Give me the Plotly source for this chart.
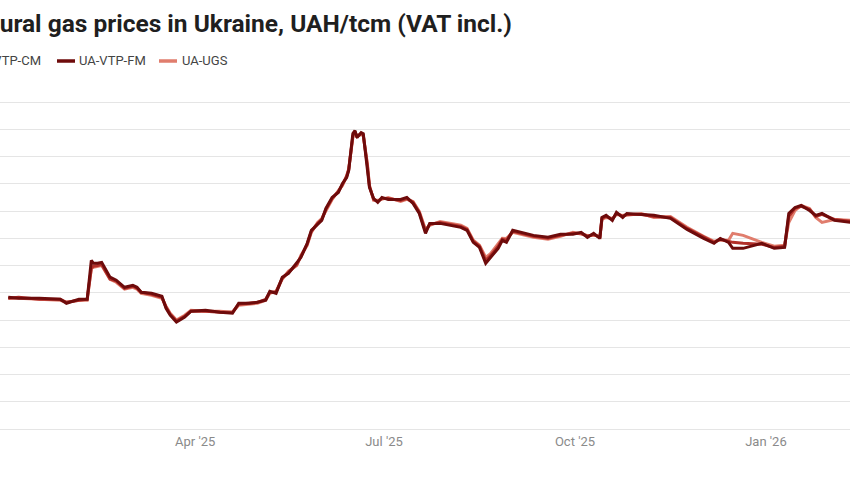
import plotly.graph_objects as go

dates = [
    "2025-01-01", "2025-01-06", "2025-01-16", "2025-01-26", "2025-01-29", "2025-02-04",
    "2025-02-08", "2025-02-10", "2025-02-11", "2025-02-13", "2025-02-15", "2025-02-19",
    "2025-02-22", "2025-02-26", "2025-03-02", "2025-03-04", "2025-03-06", "2025-03-11",
    "2025-03-16", "2025-03-18", "2025-03-20", "2025-03-23", "2025-03-27", "2025-03-30",
    "2025-04-06", "2025-04-13", "2025-04-19", "2025-04-22", "2025-04-27", "2025-05-01",
    "2025-05-05", "2025-05-07", "2025-05-10", "2025-05-13", "2025-05-16", "2025-05-20",
    "2025-05-22", "2025-05-25", "2025-05-27", "2025-05-30", "2025-06-01", "2025-06-03",
    "2025-06-06", "2025-06-09", "2025-06-11", "2025-06-13", "2025-06-14", "2025-06-16",
    "2025-06-17", "2025-06-18", "2025-06-20", "2025-06-21", "2025-06-23", "2025-06-24",
    "2025-06-26", "2025-06-28", "2025-06-30", "2025-07-03", "2025-07-09", "2025-07-12",
    "2025-07-15", "2025-07-18", "2025-07-21", "2025-07-23", "2025-07-28", "2025-08-02",
    "2025-08-07", "2025-08-10", "2025-08-13", "2025-08-16", "2025-08-19", "2025-08-21",
    "2025-08-25", "2025-08-27", "2025-08-29", "2025-09-01", "2025-09-05", "2025-09-11",
    "2025-09-18", "2025-09-24", "2025-09-30", "2025-10-04", "2025-10-07", "2025-10-10",
    "2025-10-13", "2025-10-14", "2025-10-16", "2025-10-19", "2025-10-21", "2025-10-24",
    "2025-10-26", "2025-11-02", "2025-11-08", "2025-11-16", "2025-11-24", "2025-12-02",
    "2025-12-07", "2025-12-10", "2025-12-14", "2025-12-16", "2025-12-21", "2025-12-30",
    "2026-01-05", "2026-01-10", "2026-01-12", "2026-01-15", "2026-01-18", "2026-01-22",
    "2026-01-25", "2026-01-28", "2026-02-03", "2026-02-11",
]

ua_vtp_fm = [
    19670, 19600, 19600, 19520, 19230, 19520,
    19520, 22380, 22160, 22160, 22230, 21140,
    20920, 20400, 20550, 20400, 20040, 19960,
    19740, 18860, 18350, 17840, 18210, 18640,
    18720, 18570, 18500, 19230, 19230, 19300,
    19450, 20110, 19960, 21140, 21430, 22160,
    22600, 23630, 24580, 25020, 25310, 26190,
    27000, 27360, 28020, 28460, 28970, 31680,
    31900, 31390, 31760, 31680, 29190, 27730,
    26920, 26630, 27000, 26850, 26850, 27000,
    26560, 25820, 24360, 25090, 25090, 24950,
    24800, 24580, 23700, 23330, 22160, 22530,
    23260, 23850, 23700, 24580, 24430, 24210,
    24070, 24290, 24290, 24430, 24070, 24360,
    23990, 25530, 25680, 25310, 25900, 25530,
    25820, 25750, 25680, 25460, 24650, 23990,
    23630, 23990, 23700, 23260, 23260, 23630,
    23260, 23330, 25820, 26260, 26410, 26040,
    25680, 25820, 25310, 25160,
]

ua_vtp_cm = [
    19600, 19670, 19520, 19520, 19300, 19450,
    19520, 21800, 21950, 22000, 22080, 21000,
    20850, 20330, 20480, 20330, 20040, 19890,
    19670, 18930, 18420, 17920, 18280, 18640,
    18640, 18570, 18570, 19160, 19230, 19300,
    19520, 20040, 20040, 21070, 21500, 22080,
    22670, 23560, 24510, 25090, 25380, 26120,
    26920, 27430, 27950, 28530, 29040, 31530,
    31830, 31460, 31680, 31600, 29330, 27800,
    26850, 26700, 26920, 26920, 26780, 26920,
    26630, 25900, 24500, 25020, 25160, 25020,
    24870, 24650, 23780, 23410, 22380, 22670,
    23410, 23930, 23850, 24510, 24360, 24140,
    24000, 24210, 24360, 24360, 24140, 24290,
    24070, 25460, 25600, 25380, 25820, 25600,
    25750, 25750, 25600, 25530, 24720, 24070,
    23700, 23930, 23780, 23700, 23630, 23560,
    23330, 23410, 25600, 26190, 26340, 26120,
    25600, 25750, 25380, 25230,
]

ua_ugs = [
    19600, 19600, 19520, 19450, 19300, 19450,
    19450, 21800, 21870, 21950, 22000, 20990,
    20770, 20260, 20400, 20260, 19960, 19820,
    19600, 19010, 18500, 18000, 18350, 18720,
    18640, 18640, 18570, 19090, 19160, 19230,
    19450, 19960, 20110, 21000, 21580, 22000,
    22750, 23480, 24430, 25160, 25450, 26040,
    26850, 27500, 27870, 28600, 29110, 31390,
    31750, 31530, 31600, 31530, 29480, 27870,
    26780, 26780, 26850, 26990, 26700, 26850,
    26700, 25970, 24650, 24950, 25230, 25090,
    24950, 24720, 23850, 23480, 22600, 22820,
    23560, 24000, 23990, 24430, 24290, 24070,
    23930, 24140, 24430, 24290, 24210, 24210,
    24140, 25380, 25530, 25450, 25750, 25680,
    25680, 25820, 25530, 25600, 24800, 24140,
    23780, 23850, 23850, 24360, 24210, 23700,
    23410, 23480, 25160, 26040, 26410, 26190,
    25530, 25160, 25380, 25310,
]

colors = {"UA-VTP-CM": "#b3302a", "UA-VTP-FM": "#6e0b0b", "UA-UGS": "#e07d6d"}

x_tick_vals = ["2025-04-01", "2025-07-01", "2025-10-01", "2026-01-01"]
x_tick_text = ["Apr '25", "Jul '25", "Oct '25", "Jan '26"]

title_text = "Natural gas prices in Ukraine, UAH/tcm (VAT incl.)"

W, H = 850, 478
# plot area with 2px extra on each side so the outer gridlines are drawn
PLOT_TOP, PLOT_BOTTOM = 100, 431
Y_MIN, Y_MAX = 9853, 34147


def px_x(p):
    return p / W


def px_y(p):
    return (PLOT_BOTTOM - p) / (PLOT_BOTTOM - PLOT_TOP)


fig = go.Figure()
for name, vals in [("UA-UGS", ua_ugs), ("UA-VTP-CM", ua_vtp_cm), ("UA-VTP-FM", ua_vtp_fm)]:
    fig.add_trace(go.Scatter(
        x=dates, y=vals, mode="lines", name=name,
        line=dict(color=colors[name], width=3, shape="linear"),
        showlegend=False, hoverinfo="x+y+name",
    ))

fig.update_layout(
    width=W, height=H,
    margin=dict(l=0, r=0, t=PLOT_TOP, b=H - PLOT_BOTTOM, autoexpand=False),
    paper_bgcolor="white", plot_bgcolor="white",
    font=dict(family="Roboto, Arial, sans-serif", color="#333"),
    xaxis=dict(
        type="date",
        range=["2024-12-28", "2026-02-10 12:00"],
        tickvals=x_tick_vals, ticktext=x_tick_text,
        showgrid=False, zeroline=False, showline=False, ticks="",
        ticklabelstandoff=1,
        tickfont=dict(family="Roboto, Arial, sans-serif", size=13, color="#8a8a8a"),
    ),
    yaxis=dict(
        range=[Y_MIN, Y_MAX], dtick=2000, tick0=10000,
        showgrid=True, gridcolor="#e5e5e5", gridwidth=1,
        zeroline=False, showline=False, showticklabels=False, ticks="",
    ),
)

# title (the chart is cropped on its left side, as in the reference)
fig.add_annotation(text=title_text, xref="paper", yref="paper",
                   x=px_x(-41), y=px_y(24), xanchor="left", yanchor="middle",
                   showarrow=False,
                   font=dict(family="Roboto, Arial, sans-serif", size=24.5,
                             color="#1f1f1f", weight=700))

# custom legend row
legend_items = [
    ("UA-VTP-CM", -43, 43, "right"),
    ("UA-VTP-FM", 57, 77, "left"),
    ("UA-UGS", 159, 180, "left"),
]
for name, sw_x, tx, anchor in legend_items:
    fig.add_shape(type="line", xref="paper", yref="paper",
                  x0=px_x(sw_x), x1=px_x(sw_x + 18), y0=px_y(61), y1=px_y(61),
                  line=dict(color=colors[name], width=3.5))
    fig.add_annotation(text=name, xref="paper", yref="paper",
                       x=px_x(tx), y=px_y(61), xanchor=anchor, yanchor="middle",
                       showarrow=False,
                       font=dict(family="Roboto, Arial, sans-serif", size=13, color="#444"))

fig.write_html("out.html", config={"displayModeBar": False},
               post_script="document.body.style.margin='0';")
